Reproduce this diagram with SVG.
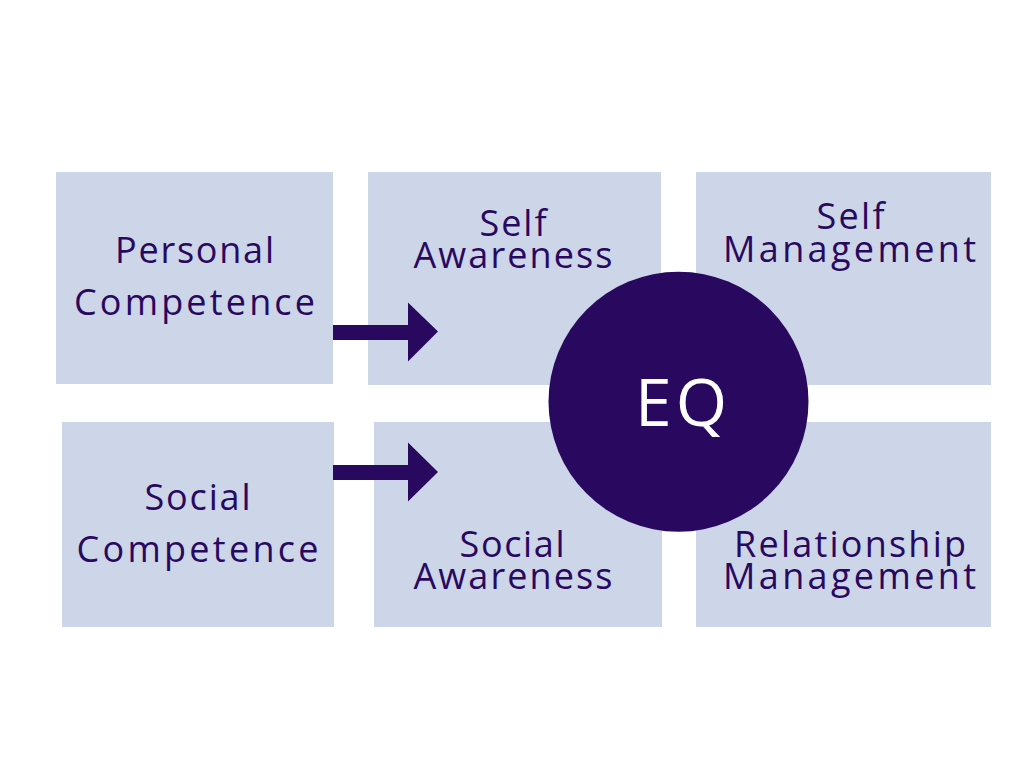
<svg xmlns="http://www.w3.org/2000/svg" width="1024" height="768" viewBox="0 0 1024 768">
<style>
.box{fill:#CDD5E8}
.lbl{font-family:"Open Sans","Liberation Sans",sans-serif;font-size:36px;fill:#290960;text-anchor:middle}
.eq{font-family:"Open Sans","Liberation Sans",sans-serif;font-size:66px;fill:#FFFFFF;text-anchor:middle}
.arrow{fill:#290960}
</style>
<rect width="1024" height="768" fill="#FFFFFF"/>
<g id="personal-competence">
<rect class="box" x="56" y="172" width="277" height="212"/>
<text class="lbl" x="194.5" y="263" textLength="159">Personal</text>
<text class="lbl" x="194.5" y="315" textLength="241">Competence</text>
</g>
<g id="social-competence">
<rect class="box" x="62" y="422" width="272" height="205"/>
<text class="lbl" x="197.5" y="510" textLength="106">Social</text>
<text class="lbl" x="197.5" y="562" textLength="242">Competence</text>
</g>
<g id="self-awareness">
<rect class="box" x="368" y="172" width="293" height="213"/>
<text class="lbl" x="513" y="236" textLength="67">Self</text>
<text class="lbl" x="513" y="268" textLength="199">Awareness</text>
</g>
<g id="social-awareness">
<rect class="box" x="374" y="422" width="288" height="205"/>
<text class="lbl" x="512" y="557" textLength="105">Social</text>
<text class="lbl" x="513" y="589" textLength="199">Awareness</text>
</g>
<g id="self-management">
<rect class="box" x="696" y="172" width="295" height="213"/>
<text class="lbl" x="850.5" y="229" textLength="68">Self</text>
<text class="lbl" x="849.5" y="261.5" textLength="253">Management</text>
</g>
<g id="relationship-management">
<rect class="box" x="696" y="422" width="295" height="205"/>
<text class="lbl" x="850" y="557" textLength="232">Relationship</text>
<text class="lbl" x="849.5" y="589" textLength="253">Management</text>
</g>
<g id="connectors">
<polygon class="arrow" points="333,325 408,325 408,302.5 438,331.5 408,361.5 408,340 333,340"/>
<polygon class="arrow" points="333,465 408,465 408,442.5 438,472 408,501.5 408,480 333,480"/>
</g>
<g id="eq">
<circle cx="678.5" cy="401.7" r="130" fill="#290960"/>
<text class="eq" x="681" y="425.5" textLength="92">EQ</text>
</g>
</svg>
